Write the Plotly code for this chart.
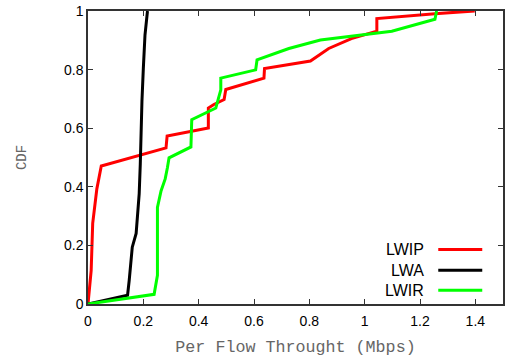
import plotly.graph_objects as go

# Data
lwip_x = [0, 0.0115, 0.017, 0.023, 0.032, 0.048, 0.282, 0.286, 0.435, 0.435, 0.455, 0.492,
          0.498, 0.636, 0.638, 0.804, 0.870, 0.952, 1.044, 1.044, 1.254, 1.398]
lwip_y = [0, 0.115, 0.275, 0.319, 0.393, 0.471, 0.533, 0.573, 0.601, 0.669, 0.681, 0.698,
          0.732, 0.771, 0.804, 0.829, 0.872, 0.906, 0.931, 0.974, 0.991, 1.0]

lwa_x = [0, 0.143, 0.149, 0.156, 0.160, 0.174, 0.179, 0.185, 0.189, 0.192, 0.195, 0.200, 0.206, 0.215]
lwa_y = [0, 0.030, 0.081, 0.139, 0.194, 0.241, 0.296, 0.376, 0.478, 0.601, 0.692, 0.804, 0.918, 1.0]

lwir_x = [0, 0.239, 0.251, 0.251, 0.264, 0.279, 0.287, 0.293, 0.372, 0.375, 0.462, 0.480,
          0.480, 0.606, 0.611, 0.726, 0.840, 1.098, 1.254, 1.260]
lwir_y = [0, 0.033, 0.098, 0.330, 0.386, 0.427, 0.465, 0.499, 0.536, 0.629, 0.669, 0.731,
          0.771, 0.799, 0.833, 0.872, 0.901, 0.931, 0.972, 1.0]

x_ticks = [0, 0.2, 0.4, 0.6, 0.8, 1, 1.2, 1.4]
y_ticks = [0, 0.2, 0.4, 0.6, 0.8, 1]

series = [
    ("LWIP", lwip_x, lwip_y, "#ff0000"),
    ("LWA", lwa_x, lwa_y, "#000000"),
    ("LWIR", lwir_x, lwir_y, "#00ff00"),
]

fig = go.Figure()
for name, xs, ys, col in series:
    fig.add_trace(go.Scatter(x=xs, y=ys, mode="lines", name=name,
                             line=dict(color=col, width=3), showlegend=False))

# manual gnuplot-style legend (text left, sample right)
leg_rows = [0.186, 0.115, 0.047]
for (name, _, _, col), yy in zip(series, leg_rows):
    fig.add_annotation(x=0.815, y=yy, xref="paper", yref="paper", text=name,
                       showarrow=False, xanchor="right", yanchor="middle",
                       font=dict(family="Liberation Sans, Arial", size=16, color="#000"))
    fig.add_shape(type="line", xref="paper", yref="paper", x0=0.844, x1=0.950,
                  y0=yy, y1=yy, line=dict(color=col, width=3))

axis_common = dict(showgrid=False, zeroline=False, showline=True, linecolor="#333",
                   linewidth=1.5, mirror="allticks", ticks="inside", ticklen=5,
                   tickcolor="#333", tickwidth=1,
                   tickfont=dict(family="Liberation Sans, Arial", size=14, color="#000"))

fig.update_xaxes(range=[0, 1.5], tickvals=x_ticks, ticktext=[f"{v:g}" for v in x_ticks],
                 ticklabelstandoff=3,
                 title=dict(text="Per Flow Throught (Mbps)", standoff=13,
                            font=dict(family="Liberation Mono, Courier New", size=16.7, color="#666")),
                 **axis_common)
fig.update_yaxes(range=[0, 1], tickvals=y_ticks, ticktext=[f"{v:g}" for v in y_ticks],
                 title=dict(text="CDF", standoff=34,
                            font=dict(family="Liberation Mono, Courier New", size=14, color="#666")),
                 **axis_common)

fig.update_layout(width=508, height=362, margin=dict(l=88, r=3, t=9, b=58),
                  plot_bgcolor="white", paper_bgcolor="white")

fig.write_html("out.html")
